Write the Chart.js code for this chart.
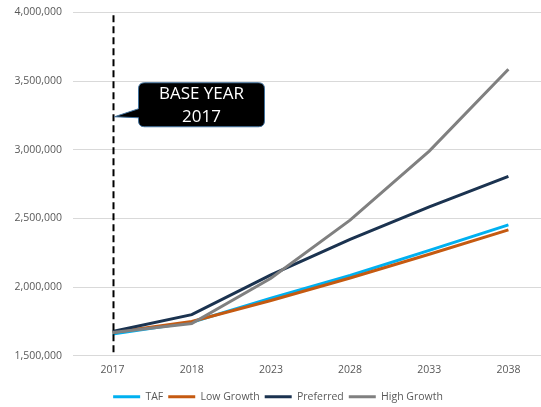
<!DOCTYPE html>
<html>
<head>
<meta charset="utf-8">
<style>
  html, body { margin: 0; padding: 0; background: #fff; overflow: hidden; }
  #wrap { width: 548px; height: 412px; margin-top: -5px; }
</style>
<script src="https://cdn.jsdelivr.net/npm/chart.js@4.4.1/dist/chart.umd.min.js"></script>
</head>
<body>
<div id="wrap"><canvas id="chart" width="548" height="412"></canvas></div>
<script>
const years = ['2017', '2018', '2023', '2028', '2033', '2038'];
const taf = [1660000, 1745000, 1920000, 2085000, 2268000, 2453000];
const lowGrowth = [1670000, 1750000, 1903000, 2067000, 2240000, 2417000];
const preferred = [1677000, 1800000, 2090000, 2348000, 2585000, 2806000];
const highGrowth = [1670000, 1736000, 2065000, 2488000, 2990000, 3586000];
const yTicks = [1500000, 2000000, 2500000, 3000000, 3500000, 4000000];

const baseYear = '2017';
const calloutLines = ['BASE YEAR', '2017'];
const calloutValue = 3240000; // where the callout pointer touches the base year line

const FONT = '"Open Sans", "Noto Sans", sans-serif';

// dashed base-year line + callout box
const baseYearPlugin = {
    id: 'baseYear',
    afterDatasetsDraw(chart) {
        const { ctx, chartArea, scales: { x, y } } = chart;
        const lx = Math.round(x.getPixelForValue(years.indexOf(baseYear))) + 0.5;
        ctx.save();
        ctx.strokeStyle = '#000';
        ctx.lineWidth = 2;
        ctx.setLineDash([7, 4]);
        ctx.beginPath();
        ctx.moveTo(lx, chartArea.top + 3);
        ctx.lineTo(lx, chartArea.bottom - 2);
        ctx.stroke();
        ctx.setLineDash([]);

        const tipY = y.getPixelForValue(calloutValue);
        const left = lx + 25, right = lx + 151;
        const top = tipY - 34, bottom = tipY + 10, r = 6;
        ctx.beginPath();
        ctx.moveTo(left + r, top);
        ctx.lineTo(right - r, top);
        ctx.quadraticCurveTo(right, top, right, top + r);
        ctx.lineTo(right, bottom - r);
        ctx.quadraticCurveTo(right, bottom, right - r, bottom);
        ctx.lineTo(left + r, bottom);
        ctx.quadraticCurveTo(left, bottom, left, bottom - r);
        ctx.lineTo(left, tipY + 1);
        ctx.lineTo(lx + 1, tipY);
        ctx.lineTo(left, tipY - 8);
        ctx.lineTo(left, top + r);
        ctx.quadraticCurveTo(left, top, left + r, top);
        ctx.closePath();
        ctx.fillStyle = '#000';
        ctx.fill();
        ctx.strokeStyle = '#41719C';
        ctx.lineWidth = 1;
        ctx.stroke();

        ctx.fillStyle = '#fff';
        ctx.font = '17px ' + FONT;
        ctx.textAlign = 'center';
        ctx.textBaseline = 'middle';
        const cx = (left + right) / 2;
        ctx.fillText(calloutLines[0], cx, tipY - 23);
        ctx.fillText(calloutLines[1], cx, tipY + 0);
        ctx.restore();
    }
};

// nudge the legend a little, as in the original
const legendShift = {
    id: 'legendShift',
    afterLayout(chart) {
        const lg = chart.legend;
        if (lg) {
            lg.left += 4; lg.right += 4;
            lg.top += 10; lg.bottom += 10;
        }
    }
};

function series(label, data, color, order) {
    return {
        label, data, order,
        borderColor: color,
        backgroundColor: color,
        borderWidth: 3,
        pointRadius: 0,
        pointHoverRadius: 0,
        tension: 0
    };
}

new Chart(document.getElementById('chart'), {
    type: 'line',
    data: {
        labels: years,
        datasets: [
            series('TAF', taf, '#00B0F0', 4),
            series('Low Growth', lowGrowth, '#C55A11', 3),
            series('Preferred', preferred, '#1B3350', 2),
            series('High Growth', highGrowth, '#808080', 1)
        ]
    },
    options: {
        responsive: false,
        animation: false,
        layout: { padding: { top: 0, left: 0, right: 0, bottom: 5 } },
        scales: {
            x: {
                offset: true,
                grid: { display: false },
                border: { display: false },
                ticks: { color: '#595959', font: { family: FONT, size: 10.5 }, padding: 0 }
            },
            y: {
                min: 1500000,
                max: 4000000,
                afterBuildTicks(scale) {
                    scale.ticks = yTicks.map(v => ({ value: v }));
                },
                afterFit(scale) { scale.width = 73; },
                grid: { color: '#D9D9D9', lineWidth: 1, drawTicks: false },
                border: { display: false },
                ticks: {
                    color: '#595959',
                    font: { family: FONT, size: 10.5 },
                    padding: 11,
                    callback: v => v.toLocaleString('en-US')
                }
            }
        },
        plugins: {
            legend: {
                position: 'bottom',
                labels: {
                    color: '#595959',
                    font: { family: FONT, size: 10.5 },
                    usePointStyle: true,
                    pointStyle: 'line',
                    pointStyleWidth: 27,
                    boxHeight: 3,
                    padding: 5,
                    sort: (a, b) => a.datasetIndex - b.datasetIndex
                }
            },
            tooltip: { enabled: false }
        }
    },
    plugins: [baseYearPlugin, legendShift]
});
</script>
</body>
</html>
